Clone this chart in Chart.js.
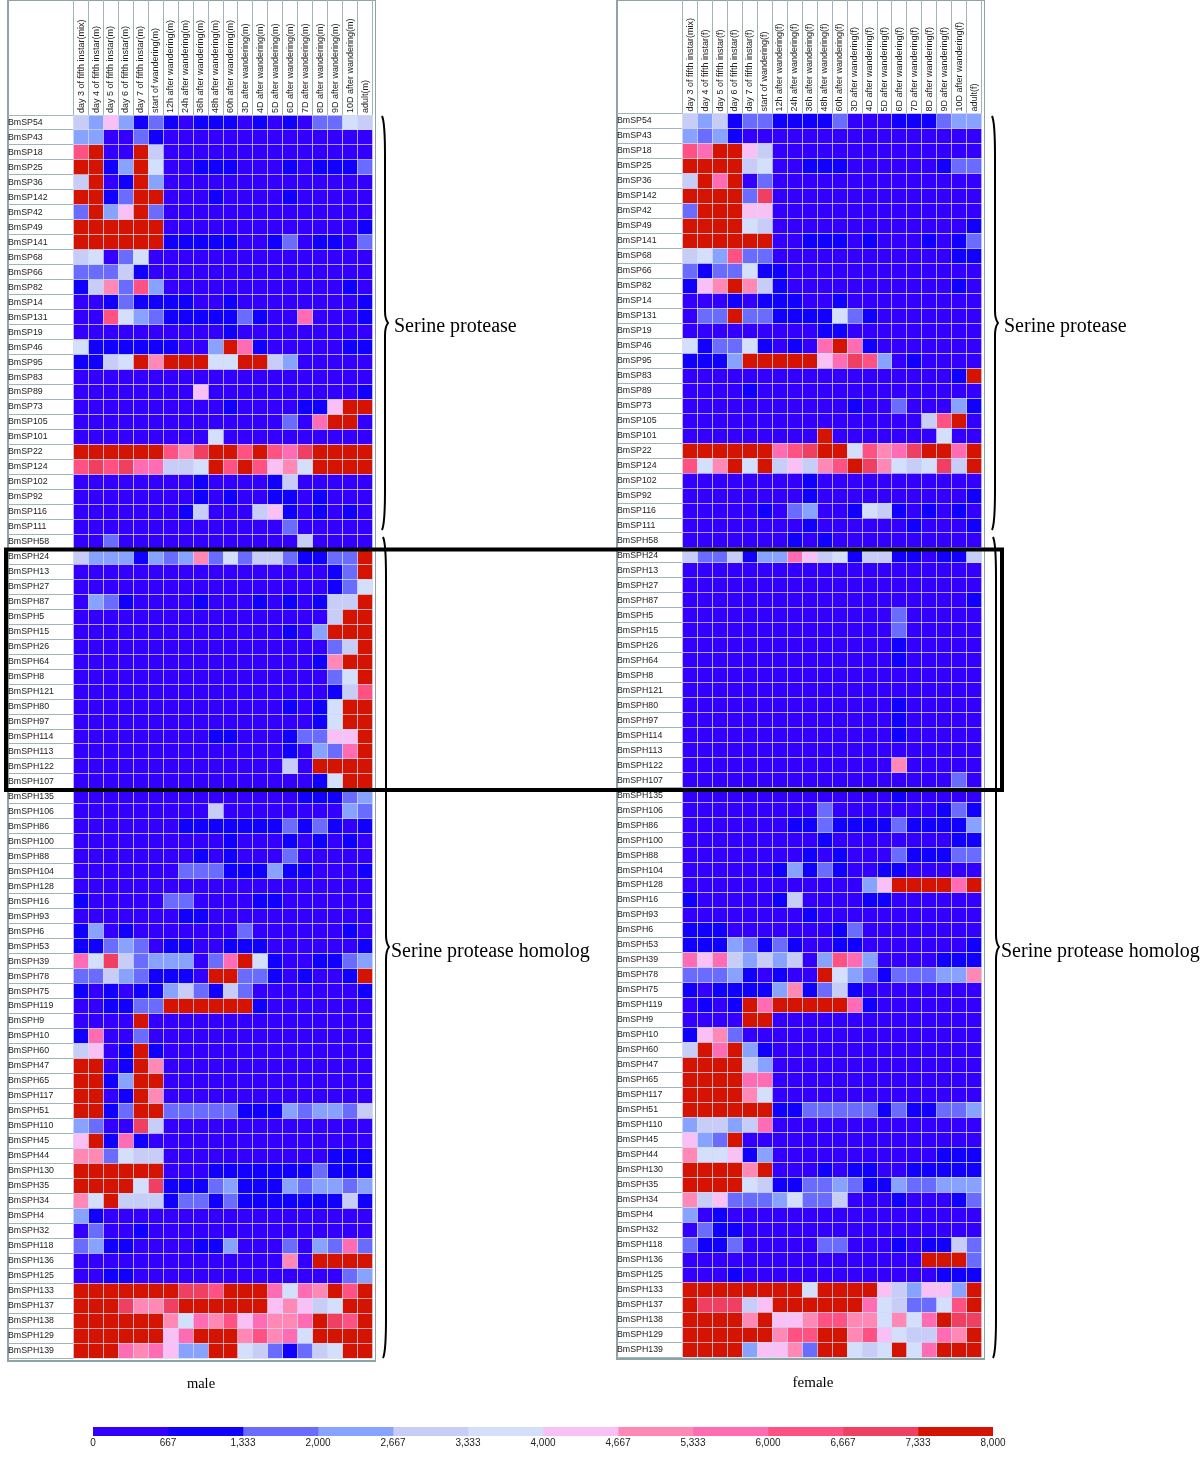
<!DOCTYPE html>
<html>
<head>
<meta charset="utf-8">
<title>BmSP / BmSPH expression</title>
<script src="https://cdn.jsdelivr.net/npm/chart.js@4"></script>
<style>
  html, body { margin: 0; padding: 0; background: #fff; }
  body { position: relative; width: 1200px; height: 1462px; overflow: hidden; }
  canvas { position: absolute; display: block; }
  .frame { position: absolute; box-sizing: border-box; border: 1px solid #8da3a6; border-left-width: 2px; border-bottom-width: 2px; }
  svg { position: absolute; left: 0; top: 0; }
  svg text { font-family: "Liberation Serif", serif; fill: #000; }
</style>
</head>
<body>
<div class="frame" style="left:7px;top:0;width:369px;height:1362px"></div>
<div class="frame" style="left:616px;top:0;width:369px;height:1360px"></div>
<canvas id="maleChart" width="367" height="1361" style="left:8px;top:0"></canvas>
<canvas id="femaleChart" width="367" height="1359" style="left:617px;top:0"></canvas>
<canvas id="scaleChart" width="980" height="40" style="left:60px;top:1420px"></canvas>
<svg id="notes" width="1200" height="1462"></svg>
<script>
const genes = ["BmSP54","BmSP43","BmSP18","BmSP25","BmSP36","BmSP142","BmSP42","BmSP49","BmSP141","BmSP68","BmSP66","BmSP82","BmSP14","BmSP131","BmSP19","BmSP46","BmSP95","BmSP83","BmSP89","BmSP73","BmSP105","BmSP101","BmSP22","BmSP124","BmSP102","BmSP92","BmSP116","BmSP111","BmSPH58",
  "BmSPH24","BmSPH13","BmSPH27","BmSPH87","BmSPH5","BmSPH15","BmSPH26","BmSPH64","BmSPH8","BmSPH121","BmSPH80","BmSPH97","BmSPH114","BmSPH113","BmSPH122","BmSPH107","BmSPH135","BmSPH106","BmSPH86","BmSPH100","BmSPH88","BmSPH104","BmSPH128","BmSPH16","BmSPH93","BmSPH6","BmSPH53","BmSPH39","BmSPH78","BmSPH75","BmSPH119","BmSPH9","BmSPH10","BmSPH60","BmSPH47","BmSPH65","BmSPH117","BmSPH51","BmSPH110","BmSPH45","BmSPH44","BmSPH130","BmSPH35","BmSPH34","BmSPH4","BmSPH32","BmSPH118","BmSPH136","BmSPH125","BmSPH133","BmSPH137","BmSPH138","BmSPH129","BmSPH139"];

const stages = ["day 4 of fifth instar","day 5 of fifth instar","day 6 of fifth instar","day 7 of fifth instar","start of wandering","12h after wandering","24h after wandering","36h after wandering","48h after wandering","60h after wandering","3D after wandering","4D after wandering","5D after wandering","6D after wandering","7D after wandering","8D after wandering","9D after wandering","10D after wandering","adult"];
const maleColumns = ["day 3 of fifth instar(mix)"].concat(stages.map(s => s + "(m)"));
const femaleColumns = ["day 3 of fifth instar(mix)"].concat(stages.map(s => s + "(f)"));

// colour scale of the figure
const scaleEdges = [0,667,1333,2000,2667,3333,4000,4667,5333,6000,6667,7333,8000];
const scaleLabels = ["0","667","1,333","2,000","2,667","3,333","4,000","4,667","5,333","6,000","6,667","7,333","8,000"];
const binColors = ["#3300ff","#1200ff","#6a6cff","#88a2ff","#c8cdf8","#d4dffc","#f8c0f4","#ff88b4","#ff6cb4","#ff5282","#f04062","#d41400"];

// values, as the index of the colour bin (0 = 0-667 ... 11 = 7333-8000)
const maleBins = [
[4,3,6,3,1, 2,1,0,1,1, 1,0,1,0,1, 0,2,2,5,4],
[3,3,0,0,2, 1,0,0,0,0, 0,0,0,0,0, 0,0,0,0,0],
[9,11,0,0,11, 4,0,0,0,0, 0,0,0,0,0, 0,0,0,0,0],
[11,11,1,3,11, 5,0,0,1,1, 1,0,0,0,1, 0,1,1,1,2],
[4,11,0,1,11, 3,0,0,0,0, 0,0,0,0,0, 0,0,0,0,0],
[11,11,1,2,11, 11,0,0,0,1, 0,0,0,0,1, 0,0,0,0,0],
[2,11,3,6,11, 2,0,0,0,0, 0,0,0,0,0, 0,0,0,0,0],
[11,11,11,11,11, 11,0,0,0,0, 0,0,0,0,0, 0,0,0,0,1],
[11,11,11,11,11, 11,1,1,1,1, 1,0,0,1,2, 0,1,1,0,2],
[4,5,0,2,5, 0,0,0,0,0, 0,0,0,0,0, 0,0,0,0,0],
[2,2,2,4,1, 0,0,0,0,0, 0,0,0,0,0, 0,0,0,0,0],
[1,4,7,2,9, 3,0,0,0,0, 0,0,0,0,0, 0,0,0,1,0],
[0,0,1,2,1, 1,1,1,0,0, 1,0,0,0,0, 0,0,0,0,1],
[0,0,9,5,3, 2,1,1,1,1, 1,2,1,0,0, 8,0,0,0,1],
[0,0,0,0,0, 0,0,0,0,0, 1,0,0,0,0, 0,0,0,0,0],
[5,1,1,1,1, 1,1,0,0,3, 11,8,1,0,0, 0,0,0,1,1],
[1,1,4,5,11, 7,11,11,11,5, 5,11,11,4,3, 0,0,0,0,0],
[0,0,0,0,0, 0,0,0,0,0, 0,0,0,0,0, 0,0,0,0,0],
[0,0,0,0,0, 0,0,0,6,0, 0,0,0,0,0, 0,0,0,0,1],
[0,0,0,0,0, 0,0,0,0,0, 1,0,0,0,0, 1,1,6,11,11],
[0,0,0,0,0, 0,0,0,0,0, 0,0,0,0,2, 0,8,11,11,0],
[0,0,0,0,0, 0,0,0,0,5, 0,0,0,0,0, 0,0,0,0,0],
[11,11,11,11,11, 11,9,7,10,11, 11,9,11,9,8, 10,11,11,11,11],
[9,10,9,10,8, 8,4,4,5,11, 9,11,9,6,7, 5,11,11,11,11],
[0,0,0,0,0, 0,0,0,1,0, 0,0,0,1,4, 0,0,0,0,0],
[0,0,0,0,0, 0,0,0,1,0, 1,0,0,1,1, 0,1,0,0,0],
[0,0,0,0,0, 0,0,1,4,0, 0,0,4,6,1, 0,1,0,1,0],
[0,0,0,0,0, 0,0,0,0,0, 0,0,0,0,2, 0,0,0,0,0],
[0,0,2,0,0, 0,0,0,0,0, 0,0,0,0,0, 4,0,0,0,0],
[4,3,3,3,1, 3,2,3,7,2, 5,2,4,4,2, 1,1,2,2,11],
[0,0,0,0,0, 0,0,0,0,0, 0,0,0,0,0, 0,0,1,2,11],
[0,0,0,0,0, 0,0,0,0,0, 0,0,0,0,0, 0,0,1,2,5],
[0,3,2,1,0, 0,0,0,1,0, 0,0,1,0,1, 0,1,4,4,11],
[0,0,0,0,0, 0,0,0,0,0, 0,0,0,0,0, 0,0,4,11,11],
[0,0,0,0,0, 0,0,0,0,0, 0,0,0,0,1, 0,3,11,11,11],
[0,0,0,0,0, 0,0,0,0,0, 0,0,0,0,0, 0,0,2,4,11],
[0,0,0,0,0, 0,0,0,0,0, 0,0,0,0,0, 0,1,7,11,11],
[0,0,0,0,0, 0,0,0,0,0, 0,0,0,0,0, 0,0,2,5,11],
[0,0,0,0,0, 0,0,0,0,0, 0,0,0,0,0, 0,0,1,4,9],
[0,0,0,0,0, 0,0,0,0,0, 0,0,0,0,1, 0,1,5,11,11],
[0,0,0,0,0, 0,0,0,0,0, 0,0,0,0,0, 0,1,5,11,11],
[0,0,0,0,0, 0,0,0,0,1, 1,0,0,0,1, 2,2,6,6,11],
[0,0,0,0,0, 0,0,0,0,0, 0,0,0,0,1, 0,3,2,8,11],
[0,0,0,0,0, 0,0,0,0,0, 0,0,0,0,4, 0,11,11,11,11],
[0,0,0,0,0, 0,0,0,0,0, 0,0,0,0,0, 0,1,5,11,11],
[0,0,0,0,0, 0,0,0,0,0, 0,0,0,0,0, 1,1,1,2,3],
[0,0,0,0,0, 0,0,0,0,4, 0,0,0,0,0, 0,0,0,3,2],
[0,0,0,0,0, 0,0,1,1,1, 1,1,1,1,2, 1,2,1,0,1],
[0,0,0,0,0, 0,0,0,0,0, 1,0,0,0,1, 0,1,0,1,0],
[0,0,0,0,0, 0,0,0,1,0, 1,0,0,0,2, 0,0,0,0,0],
[0,0,0,0,0, 0,0,2,2,2, 1,1,1,3,1, 1,0,0,0,1],
[0,0,0,0,0, 0,0,0,0,0, 0,0,0,0,0, 0,0,0,0,0],
[1,0,0,0,0, 0,2,2,0,0, 0,0,1,1,0, 0,0,0,0,0],
[0,0,0,0,0, 0,0,1,1,0, 0,0,0,0,0, 0,0,0,0,0],
[1,3,0,1,0, 0,0,0,0,0, 0,2,0,0,0, 0,0,0,1,0],
[1,1,2,3,2, 0,1,1,0,0, 1,1,1,0,0, 0,0,0,0,1],
[8,5,10,4,2, 3,3,3,0,2, 8,11,5,1,0, 0,1,1,2,3],
[2,2,4,3,2, 1,1,1,0,11, 11,2,2,1,0, 1,0,0,1,11],
[1,0,1,0,1, 1,3,4,2,1, 4,2,0,0,0, 0,0,0,0,1],
[0,0,1,1,2, 2,11,11,11,11, 11,11,1,0,0, 0,0,0,0,0],
[0,0,0,0,11, 0,0,0,0,0, 0,0,0,0,0, 0,0,0,0,0],
[1,8,0,0,2, 0,0,0,0,0, 0,0,0,0,0, 0,0,0,0,0],
[4,6,0,1,11, 1,0,0,0,0, 0,0,0,0,0, 0,0,0,0,0],
[11,11,0,1,11, 7,0,0,0,0, 0,0,0,0,0, 0,0,0,0,0],
[11,11,1,3,11, 11,0,0,0,0, 0,0,0,0,0, 0,0,0,0,0],
[11,11,0,1,11, 7,0,0,0,0, 0,0,0,0,0, 0,0,0,0,0],
[11,11,1,2,11, 11,2,2,2,2, 2,1,1,1,3, 2,3,3,2,4],
[3,2,0,0,10, 4,0,0,0,0, 0,0,0,0,0, 0,0,0,0,0],
[6,11,1,8,1, 0,0,0,0,0, 0,0,0,0,0, 0,0,0,0,0],
[7,7,2,5,4, 4,0,0,0,0, 0,0,0,0,0, 0,0,1,1,1],
[11,11,11,11,11, 11,0,0,0,1, 1,1,1,1,1, 1,2,1,1,1],
[11,11,11,11,5, 10,1,1,1,2, 3,1,1,1,3, 2,3,3,2,3],
[7,5,11,4,4, 4,1,2,2,1, 2,1,1,1,1, 1,1,1,4,1],
[3,1,0,0,0, 0,0,0,0,0, 0,0,0,0,0, 0,0,0,0,0],
[0,2,0,0,1, 0,0,0,0,0, 0,0,0,0,0, 0,0,0,0,0],
[2,3,1,1,0, 0,0,0,1,1, 3,0,0,0,2, 0,3,2,8,2],
[0,0,0,0,0, 0,0,0,0,0, 0,0,0,0,7, 0,11,11,11,11],
[0,0,1,1,0, 0,0,0,0,0, 0,0,0,0,0, 0,0,0,2,3],
[11,11,11,11,11, 11,11,10,10,9, 11,11,11,8,5, 8,7,11,9,11],
[11,11,11,10,7, 7,10,11,11,11, 11,11,11,6,7, 6,4,5,11,11],
[11,11,11,11,11, 11,7,5,8,7, 9,6,8,7,7, 8,11,10,9,11],
[11,11,11,11,11, 11,6,8,11,11, 11,7,9,7,8, 5,11,11,11,11],
[11,11,11,8,7, 8,6,3,3,11, 11,5,4,2,1, 2,4,5,11,11]
];

const femaleBins = [
[4,3,4,1,2, 2,1,1,1,1, 2,0,0,0,1, 1,1,2,3,3],
[3,2,3,1,0, 0,0,0,0,0, 0,0,0,0,0, 0,0,0,0,0],
[9,8,11,11,6, 4,0,0,0,0, 0,0,0,0,0, 0,0,0,0,0],
[11,11,11,11,4, 5,0,0,1,1, 1,0,0,0,0, 0,0,1,2,2],
[4,11,8,11,0, 2,0,0,0,0, 0,0,0,0,0, 0,0,0,0,0],
[11,11,11,11,2, 10,0,0,0,0, 0,0,0,0,0, 0,0,0,0,0],
[2,11,11,11,6, 6,0,0,0,0, 0,0,0,0,0, 0,0,0,0,0],
[11,11,11,11,5, 4,0,0,0,0, 0,0,0,0,0, 0,0,0,0,1],
[11,11,11,11,11, 11,0,0,1,1, 1,0,1,0,0, 0,1,0,1,2],
[4,5,3,9,2, 2,0,0,0,0, 0,0,0,0,0, 0,0,0,1,1],
[2,1,2,2,5, 1,1,0,0,0, 0,0,0,0,0, 0,0,0,0,0],
[1,6,7,11,7, 4,1,0,0,0, 0,0,0,0,0, 0,0,0,1,0],
[0,0,0,1,0, 1,1,1,0,0, 1,0,0,0,0, 0,0,0,0,0],
[0,2,2,11,2, 2,1,1,1,1, 5,2,1,0,0, 0,0,0,0,0],
[0,0,0,0,0, 0,0,0,0,1, 1,0,0,0,0, 0,0,0,0,0],
[5,1,2,2,5, 1,0,1,0,8, 11,8,1,0,0, 0,0,0,0,0],
[1,1,1,3,11, 11,11,11,11,6, 8,10,9,3,0, 1,0,0,0,0],
[0,0,0,0,0, 0,0,0,0,0, 0,0,0,0,0, 0,0,0,1,11],
[0,0,0,0,1, 0,0,0,0,0, 0,0,0,0,0, 0,0,0,0,0],
[0,0,0,0,0, 0,0,0,0,0, 0,1,0,0,2, 0,0,0,3,1],
[0,0,0,0,0, 0,0,0,0,0, 0,0,0,0,0, 0,4,9,11,0],
[0,0,0,0,0, 0,0,0,0,11, 0,0,0,0,0, 0,0,5,0,0],
[11,11,11,11,11, 11,8,9,10,11, 11,5,9,7,8, 10,11,11,8,11],
[9,5,7,11,5, 11,4,6,4,7, 9,11,10,7,5, 4,5,10,4,11],
[0,0,0,0,0, 0,0,0,1,0, 0,0,0,0,0, 0,0,0,0,0],
[0,0,0,0,0, 0,0,0,1,0, 0,0,0,0,0, 0,0,0,0,1],
[0,0,0,0,0, 1,0,2,3,0, 0,1,5,4,1, 0,1,0,1,0],
[0,0,0,0,0, 0,0,0,1,0, 0,0,0,0,0, 1,0,0,0,1],
[0,0,0,0,0, 0,0,1,0,1, 0,0,0,0,0, 0,0,0,0,0],
[4,2,2,4,1, 3,3,8,6,4, 5,1,4,4,1, 1,0,1,1,4],
[0,0,0,0,0, 0,0,0,0,0, 0,0,0,0,0, 0,0,0,0,0],
[0,0,0,0,0, 0,0,0,0,0, 0,0,0,0,0, 0,0,0,0,0],
[0,0,0,0,0, 0,0,0,0,0, 0,0,0,0,0, 0,0,0,0,1],
[0,0,0,0,0, 0,0,0,0,0, 0,0,0,0,2, 0,0,0,0,0],
[0,0,0,0,0, 0,0,0,0,0, 0,0,0,0,2, 0,0,0,0,0],
[0,0,0,0,0, 0,0,0,0,0, 0,0,0,0,1, 0,0,0,0,0],
[0,0,0,0,0, 0,0,0,0,0, 0,0,0,0,1, 0,0,0,0,0],
[0,0,0,0,0, 0,0,0,0,0, 0,0,0,0,0, 0,0,0,0,0],
[0,0,0,0,0, 0,0,0,0,0, 0,0,0,0,0, 0,0,0,0,0],
[0,0,0,0,0, 0,0,0,0,0, 0,0,0,0,1, 0,0,0,0,0],
[0,0,0,0,0, 0,0,0,0,0, 0,0,0,0,1, 0,0,0,0,0],
[0,0,0,0,0, 0,0,0,0,0, 0,0,0,0,1, 0,0,0,0,0],
[0,0,0,0,0, 0,0,0,0,0, 0,0,0,0,0, 0,0,0,0,0],
[0,0,0,0,0, 0,0,0,0,0, 0,0,0,0,7, 0,0,0,0,0],
[0,0,0,0,0, 0,0,0,0,0, 0,0,0,0,0, 0,0,0,2,0],
[0,0,0,0,0, 0,0,0,0,0, 0,0,0,0,1, 0,0,0,0,0],
[0,0,0,0,0, 0,0,0,0,2, 0,0,0,0,0, 0,0,1,2,1],
[0,0,0,0,0, 0,0,1,1,2, 1,1,1,1,2, 1,1,1,1,3],
[0,0,0,0,0, 0,0,0,0,1, 0,0,0,0,0, 0,0,0,1,1],
[0,0,0,0,0, 0,0,0,1,0, 1,0,0,0,2, 1,1,1,2,2],
[0,0,0,0,0, 0,1,3,1,2, 1,0,0,1,1, 0,0,0,0,0],
[0,0,0,0,0, 0,0,0,0,0, 0,0,3,6,11, 11,11,11,8,11],
[1,0,0,0,0, 0,1,4,0,0, 0,0,1,1,0, 0,0,0,0,0],
[0,0,0,0,0, 0,0,0,1,0, 0,0,0,0,0, 0,0,0,0,0],
[1,1,1,0,0, 0,0,0,0,0, 1,2,0,0,0, 0,0,0,0,0],
[1,1,1,3,2, 1,2,1,0,0, 1,1,0,0,0, 0,0,0,0,1],
[8,6,8,4,3, 4,3,4,0,3, 9,8,3,0,0, 0,0,1,1,1],
[2,2,2,3,1, 0,1,0,0,11, 5,3,2,1,2, 2,2,3,3,7],
[1,0,1,1,1, 1,3,7,1,2, 4,1,0,0,0, 0,0,0,0,0],
[0,1,0,1,11, 8,11,11,11,11, 11,8,1,0,0, 0,0,0,0,0],
[0,0,0,0,11, 11,0,0,0,0, 0,0,0,0,0, 0,0,0,0,0],
[1,6,7,2,0, 0,0,0,0,0, 0,0,0,0,0, 0,0,0,0,0],
[4,11,8,11,3, 1,0,0,0,0, 0,0,0,0,0, 0,0,0,0,0],
[11,11,11,11,4, 3,0,0,0,0, 0,0,0,0,0, 0,0,0,0,0],
[11,11,11,11,8, 8,0,0,0,0, 0,0,0,0,0, 0,0,0,0,0],
[11,11,11,11,7, 5,0,0,0,0, 0,0,0,0,0, 0,0,0,0,0],
[11,11,11,11,11, 11,1,1,2,2, 2,2,2,1,2, 1,1,2,2,3],
[3,4,4,3,4, 8,0,0,0,0, 0,0,0,0,0, 0,0,0,0,0],
[6,3,2,11,0, 0,0,0,0,0, 0,0,0,0,0, 0,0,0,0,0],
[7,5,5,6,1, 3,0,0,0,0, 0,0,0,0,0, 0,0,1,1,1],
[11,11,11,11,7, 11,0,0,0,1, 0,1,1,0,0, 1,1,1,1,1],
[11,11,11,11,5, 4,1,1,2,2, 3,2,1,1,3, 2,2,3,3,3],
[7,4,6,2,2, 2,3,5,2,2, 4,0,0,0,1, 0,0,0,1,2],
[3,0,1,0,0, 0,0,0,0,0, 0,0,0,0,0, 0,0,0,0,0],
[0,2,1,1,0, 0,0,0,0,0, 0,0,0,0,0, 0,0,0,0,0],
[2,1,1,2,0, 0,0,0,0,2, 2,0,0,0,1, 0,1,1,4,2],
[0,0,0,0,0, 0,0,0,0,0, 0,0,0,0,0, 0,11,11,11,2],
[0,0,0,1,0, 0,0,0,0,0, 0,0,0,0,0, 0,0,1,1,1],
[11,11,11,11,11, 11,11,11,5,11, 11,11,11,6,4, 3,6,6,3,11],
[11,10,10,10,4, 6,11,11,11,11, 11,11,8,5,4, 2,2,5,9,11],
[11,11,11,11,7, 11,6,6,7,9, 9,7,7,5,7, 5,8,11,10,10],
[11,11,11,11,11, 11,7,9,9,11, 11,7,9,6,5, 4,4,8,7,11],
[11,11,11,11,3, 6,6,7,2,11, 11,5,4,5,11, 5,8,11,11,11]
];

Chart.defaults.animation = false;
Chart.defaults.font.family = '"Liberation Sans", Arial, sans-serif';

function heatmap(id, columns, bins, headerHeight, padRight, padBottom) {
  const cells = [];
  bins.forEach((row, r) => row.forEach((bin, c) => cells.push({ x: columns[c], y: genes[r], bin })));

  return new Chart(document.getElementById(id), {
    type: "scatter",
    data: { datasets: [{
      data: cells,
      pointStyle: "rect",
      pointRadius: 10.62,
      pointBorderWidth: 0,
      pointBackgroundColor: ctx => binColors[ctx.raw ? ctx.raw.bin : 0]
    }] },
    options: {
      responsive: false,
      events: [],
      layout: { autoPadding: false, padding: { left: 0, right: padRight, top: 0, bottom: padBottom } },
      plugins: { legend: { display: false }, tooltip: { enabled: false } },
      scales: {
        x: {
          type: "category", labels: columns, position: "top", offset: true,
          afterFit: s => { s.height = headerHeight; s.paddingLeft = 0; s.paddingRight = 0; },
          border: { display: false },
          grid: { offset: true, z: 1, color: "rgba(208,216,244,0.72)", tickColor: "#a3b4b9", tickLength: headerHeight },
          ticks: { autoSkip: false, minRotation: 90, maxRotation: 90, padding: 2 - headerHeight, labelOffset: 11, color: "#222", font: { size: 9 } }
        },
        y: {
          type: "category", labels: genes, offset: true,
          afterFit: s => { s.width = 65.4; s.paddingTop = 0; s.paddingBottom = 0; },
          border: { display: false },
          grid: { offset: true, z: 1, color: "rgba(208,216,244,0.72)", tickColor: "#a3b4b9", tickLength: 66 },
          ticks: { autoSkip: false, crossAlign: "far", padding: 0, color: "#222", font: { size: 8.8 } }
        }
      }
    }
  });
}

heatmap("maleChart", maleColumns, maleBins, 115, 2.4, 3);
heatmap("femaleChart", femaleColumns, femaleBins, 113.5, 2.2, 2);

// colour key under the two panels
new Chart(document.getElementById("scaleChart"), {
  type: "bar",
  data: {
    labels: ["key"],
    datasets: binColors.map((color, i) => ({ data: [[scaleEdges[i], scaleEdges[i + 1]]], backgroundColor: color, barPercentage: 1, categoryPercentage: 1 }))
  },
  options: {
    indexAxis: "y",
    responsive: false,
    events: [],
    layout: { padding: { left: 33, right: 47, top: 7, bottom: 0 } },
    plugins: { legend: { display: false }, tooltip: { enabled: false } },
    scales: {
      y: { stacked: true, display: false },
      x: {
        type: "linear", min: 0, max: 8000,
        afterBuildTicks: s => { s.ticks = scaleEdges.map(value => ({ value })); },
        afterFit: s => { s.height = 24; },
        border: { display: false },
        grid: { display: false, drawTicks: false },
        ticks: { autoSkip: false, maxRotation: 0, padding: 1, color: "#222", font: { size: 10 },
          callback: (v, i) => scaleLabels[i] }
      }
    }
  }
});

// braces, outline and captions of the figure
const notes = document.getElementById("notes");
function note(tag, attrs, text) {
  const el = document.createElementNS("http://www.w3.org/2000/svg", tag);
  Object.keys(attrs).forEach(k => el.setAttribute(k, attrs[k]));
  if (text) el.textContent = text;
  notes.appendChild(el);
}
function brace(x, top, mid, bottom) {
  const s = x + 3, t = x + 6;
  note("path", { fill: "none", stroke: "#000", "stroke-width": 2,
    d: `M${x} ${top} Q${s} ${top + 6} ${s} ${top + 40} L${s} ${mid - 12} Q${s} ${mid - 4} ${t} ${mid} Q${s} ${mid + 4} ${s} ${mid + 12} L${s} ${bottom - 40} Q${s} ${bottom - 6} ${x} ${bottom}` });
}
[0, 610].forEach(dx => {
  brace(382 + dx, 116, 323, 530);
  brace(383 + dx, 537, 947, 1358);
});
note("rect", { x: 6, y: 549.5, width: 996, height: 240.5, fill: "none", stroke: "#000", "stroke-width": 4 });
note("text", { x: 394, y: 332, "font-size": 20 }, "Serine protease");
note("text", { x: 1004, y: 332, "font-size": 20 }, "Serine protease");
note("text", { x: 391, y: 957, "font-size": 20 }, "Serine protease homolog");
note("text", { x: 1001, y: 957, "font-size": 20 }, "Serine protease homolog");
note("text", { x: 201, y: 1388, "font-size": 14.5, "text-anchor": "middle" }, "male");
note("text", { x: 813, y: 1387, "font-size": 15, "text-anchor": "middle" }, "female");
</script>
</body>
</html>
